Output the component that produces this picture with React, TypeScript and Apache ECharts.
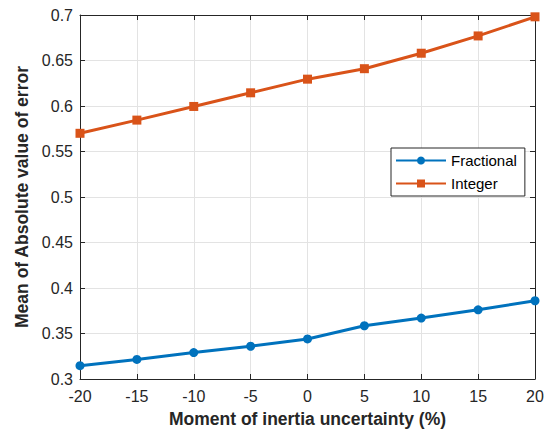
import React, { useEffect, useRef } from "react";
import * as echarts from "echarts";

const xValues = [-20, -15, -10, -5, 0, 5, 10, 15, 20];
const fractional = [0.3146, 0.3215, 0.329, 0.336, 0.344, 0.3585, 0.367, 0.376, 0.386];
const integer = [0.570, 0.5845, 0.5995, 0.6145, 0.6295, 0.641, 0.658, 0.677, 0.698];
const seriesNames = ["Fractional", "Integer"];
const xTitle = "Moment of inertia uncertainty (%)";
const yTitle = "Mean of Absolute value of error";

const FONT = "Liberation Sans, Arial, Helvetica, sans-serif";

export default function App() {
  const ref = useRef<HTMLDivElement>(null);
  useEffect(() => {
    if (!ref.current) return;
    const chart = echarts.init(ref.current, null, { renderer: "svg" });
    const axisLine = { show: true, onZero: false, lineStyle: { color: "#262626", width: 1 } };
    const tick = { show: true, inside: true, length: 5, lineStyle: { color: "#262626" } };
    chart.setOption({
      animation: false,
      backgroundColor: "#ffffff",
      grid: { left: 80, top: 15, right: 13, bottom: 55, containLabel: false },
      legend: {
        orient: "vertical",
        left: 391,
        top: 148,
        itemWidth: 50,
        itemHeight: 10,
        itemGap: 8,
        padding: [5, 8, 5, 4],
        borderColor: "#262626",
        borderWidth: 1,
        backgroundColor: "#ffffff",
        textStyle: { fontFamily: FONT, fontSize: 15, color: "#000" },
        data: seriesNames,
      },
      xAxis: [
        {
          type: "value",
          min: -20,
          max: 20,
          interval: 5,
          name: xTitle,
          nameLocation: "middle",
          nameGap: 31,
          nameTextStyle: { fontFamily: FONT, fontSize: 17.5, fontWeight: "bold", color: "#262626" },
          axisLine,
          axisTick: tick,
          axisLabel: { fontFamily: FONT, fontSize: 16, color: "#262626", margin: 9 },
          splitLine: { show: true, lineStyle: { color: "#e3e3e3", width: 1 } },
        },
        {
          type: "value",
          position: "top",
          min: -20,
          max: 20,
          interval: 5,
          axisLine,
          axisTick: tick,
          axisLabel: { show: false },
          splitLine: { show: false },
        },
      ],
      yAxis: [
        {
          type: "value",
          min: 0.3,
          max: 0.7,
          interval: 0.05,
          name: yTitle,
          nameLocation: "middle",
          nameGap: 46,
          nameTextStyle: { fontFamily: FONT, fontSize: 17.5, fontWeight: "bold", color: "#262626" },
          axisLine,
          axisTick: tick,
          axisLabel: {
            fontFamily: FONT,
            fontSize: 16,
            color: "#262626",
            margin: 7,
            formatter: (v: number) => String(parseFloat(v.toFixed(2))),
          },
          splitLine: { show: true, lineStyle: { color: "#e3e3e3", width: 1 } },
        },
        {
          type: "value",
          position: "right",
          min: 0.3,
          max: 0.7,
          interval: 0.05,
          axisLine,
          axisTick: tick,
          axisLabel: { show: false },
          splitLine: { show: false },
        },
      ],
      series: [
        {
          name: seriesNames[0],
          type: "line",
          data: xValues.map((x, i) => [x, fractional[i]]),
          symbol: "circle",
          symbolSize: 9,
          lineStyle: { color: "#0072BD", width: 3 },
          itemStyle: { color: "#0072BD" },
        },
        {
          name: seriesNames[1],
          type: "line",
          data: xValues.map((x, i) => [x, integer[i]]),
          symbol: "rect",
          symbolSize: 9,
          lineStyle: { color: "#D95319", width: 3 },
          itemStyle: { color: "#D95319" },
        },
      ],
    });
    return () => chart.dispose();
  }, []);
  return <div ref={ref} style={{ width: 548, height: 434, position: "absolute", left: 0, top: 0 }} />;
}
